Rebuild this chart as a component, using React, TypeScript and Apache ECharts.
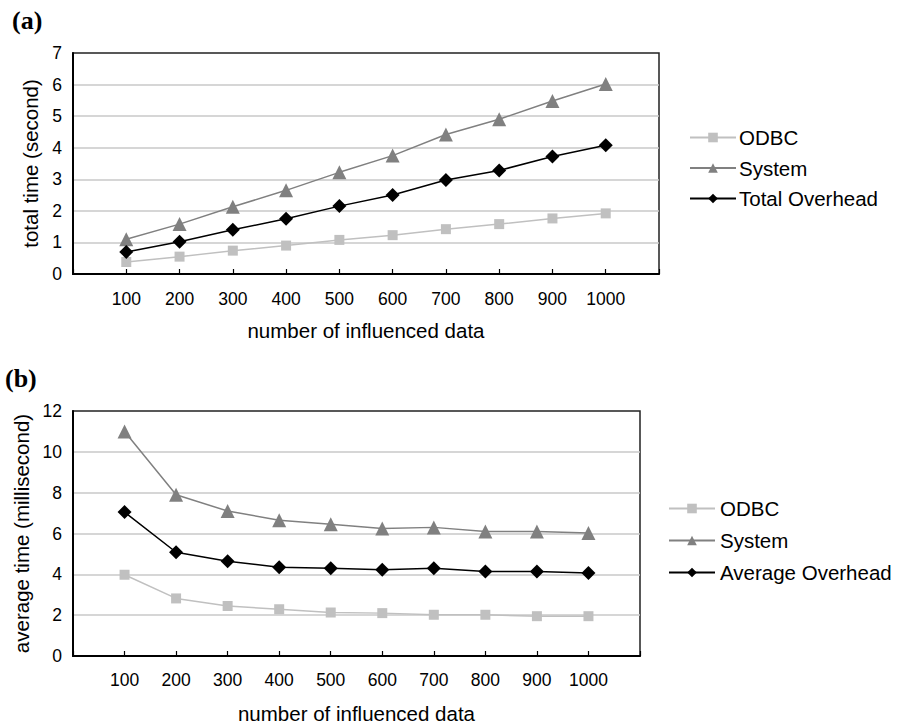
import React, { useEffect, useRef } from "react";
import * as echarts from "echarts";

const categories = [100, 200, 300, 400, 500, 600, 700, 800, 900, 1000];

// (a) total time (second)
const odbcTotal = [0.38, 0.55, 0.74, 0.9, 1.08, 1.23, 1.42, 1.58, 1.76, 1.92];
const systemTotal = [1.1, 1.58, 2.13, 2.65, 3.22, 3.75, 4.42, 4.9, 5.48, 6.02];
const overheadTotal = [0.7, 1.02, 1.4, 1.75, 2.15, 2.5, 2.98, 3.28, 3.72, 4.08];

// (b) average time (millisecond)
const odbcAvg = [3.98, 2.82, 2.45, 2.29, 2.13, 2.1, 2.02, 2.02, 1.95, 1.95];
const systemAvg = [11.0, 7.9, 7.1, 6.65, 6.45, 6.25, 6.3, 6.1, 6.1, 6.02];
const overheadAvg = [7.05, 5.08, 4.64, 4.35, 4.3, 4.22, 4.3, 4.14, 4.14, 4.06];

const legendA = ["ODBC", "System", "Total Overhead"];
const legendB = ["ODBC", "System", "Average Overhead"];

const FONT = "'Liberation Sans', Arial, Helvetica, sans-serif";
const SERIF = "'Liberation Serif', 'Times New Roman', serif";

const pairs = (vals: number[]) => categories.map((c, i) => [c, vals[i]]);

const styles = {
  odbc: { color: "#c0c0c0", symbol: "rect", size: 10 },
  system: { color: "#808080", symbol: "triangle", size: 14 },
  overhead: { color: "#000000", symbol: "diamond", size: 14 },
};

function mkSeries(name: string, vals: number[], st: any, idx: number) {
  return {
    type: "line",
    name,
    data: pairs(vals),
    xAxisIndex: idx,
    yAxisIndex: idx,
    symbol: st.symbol,
    symbolSize: st.size,
    showAllSymbol: true,
    lineStyle: { color: st.color, width: 1.5 },
    itemStyle: { color: st.color, borderWidth: 0 },
  };
}

function xAxis(idx: number, margin: number, nameGap: number) {
  return {
    type: "value",
    gridIndex: idx,
    min: 0,
    max: 1100,
    interval: 100,
    name: "number of influenced data",
    nameLocation: "middle",
    nameGap,
    nameTextStyle: { fontFamily: FONT, fontSize: 20.5, color: "#000" },
    axisLine: { show: true, lineStyle: { color: "#000", width: 2 } },
    axisTick: { show: true, inside: true, length: 5, lineStyle: { color: "#000", width: 1.2 } },
    axisLabel: {
      margin,
      fontFamily: FONT,
      fontSize: 17.5,
      color: "#000",
      formatter: (v: number) => (v === 0 || v === 1100 ? "" : String(v)),
    },
    splitLine: { show: false },
  };
}

function yAxis(idx: number, max: number, interval: number, name: string) {
  return {
    type: "value",
    gridIndex: idx,
    min: 0,
    max,
    interval,
    name,
    nameLocation: "middle",
    nameRotate: 90,
    nameGap: 29,
    nameTextStyle: { fontFamily: FONT, fontSize: 20.5, color: "#000" },
    axisLine: { show: true, lineStyle: { color: "#000", width: 2 } },
    axisTick: { show: false },
    axisLabel: { margin: 11, fontFamily: FONT, fontSize: 17.5, color: "#000" },
    splitLine: { show: true, showMaxLine: false, lineStyle: { color: "#c8c8c8", width: 1.5 } },
  };
}

export default function App() {
  const ref = useRef<HTMLDivElement>(null);
  useEffect(() => {
    document.body.style.margin = "0";
    if (!ref.current) return;
    const chart = echarts.init(ref.current, undefined, { renderer: "svg" });
    chart.setOption({
      animation: false,
      backgroundColor: "#ffffff",
      title: [
        {
          text: "(a)",
          left: 7,
          top: 2,
          textStyle: { fontFamily: SERIF, fontWeight: "bold", fontSize: 26, color: "#000" },
        },
        {
          text: "(b)",
          left: 0,
          top: 360,
          textStyle: { fontFamily: SERIF, fontWeight: "bold", fontSize: 26, color: "#000" },
        },
      ],
      grid: [
        { left: 73, top: 53, width: 586, height: 221, show: true, borderColor: "#222", borderWidth: 1.5, backgroundColor: "#fff" },
        { left: 73, top: 411, width: 567, height: 247, show: true, borderColor: "#222", borderWidth: 1.5, backgroundColor: "#fff" },
      ],
      xAxis: [xAxis(0, 16, 46), xAxis(1, 15, 47)],
      yAxis: [yAxis(0, 7, 1, "total time (second)"), yAxis(1, 12, 2, "average time (millisecond)")],
      legend: [
        {
          data: legendA,
          orient: "vertical",
          left: 684,
          top: 122,
          itemWidth: 46,
          itemHeight: 12,
          itemGap: 9.5,
          selectedMode: false,
          textStyle: { fontFamily: FONT, fontSize: 20.5, color: "#000", padding: [0, 0, 0, -2] },
        },
        {
          data: legendB,
          orient: "vertical",
          left: 663,
          top: 493,
          itemWidth: 46,
          itemHeight: 12,
          itemGap: 11,
          selectedMode: false,
          textStyle: { fontFamily: FONT, fontSize: 20.5, color: "#000" },
        },
      ],
      series: [
        mkSeries("ODBC", odbcTotal, styles.odbc, 0),
        mkSeries("System", systemTotal, styles.system, 0),
        mkSeries("Total Overhead", overheadTotal, styles.overhead, 0),
        mkSeries("ODBC", odbcAvg, styles.odbc, 1),
        mkSeries("System", systemAvg, styles.system, 1),
        mkSeries("Average Overhead", overheadAvg, styles.overhead, 1),
      ],
    });
    return () => chart.dispose();
  }, []);
  return <div ref={ref} style={{ width: 900, height: 725 }} />;
}
